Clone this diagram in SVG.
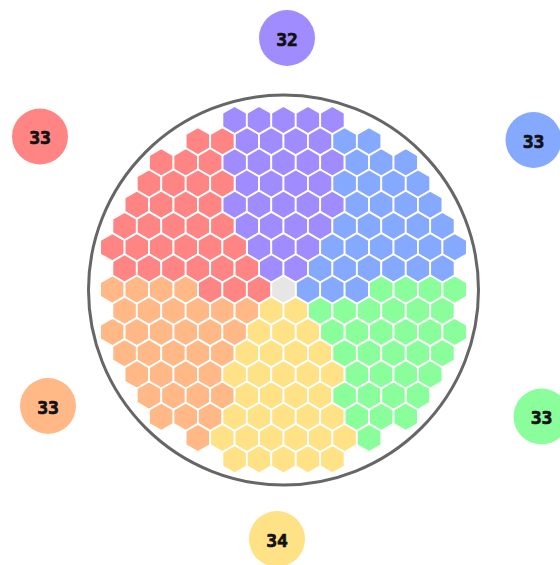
<svg xmlns="http://www.w3.org/2000/svg" xmlns:xlink="http://www.w3.org/1999/xlink" width="560" height="565" viewBox="0 0 560 565">
<defs>
<style>
.P{fill:#a08bff}.B{fill:#85a9ff}.G{fill:#8afe9b}.Y{fill:#ffe285}.O{fill:#ffb886}.R{fill:#ff8585}.N{fill:#e6e6e6}
use{stroke:#ffffff;stroke-width:1.8}
.lbl{font-family:"DejaVu Sans Mono","Liberation Mono",monospace;font-weight:bold;font-size:18px;fill:#111;stroke:#111;stroke-width:0.7;text-anchor:middle;dominant-baseline:central}
</style>
<polygon id="h" points="0,-14.1 12.21,-7.05 12.21,7.05 0,14.1 -12.21,7.05 -12.21,-7.05"/>
</defs>
<rect width="560" height="565" fill="#ffffff"/>
<circle cx="283.5" cy="290" r="195" fill="none" stroke="#666666" stroke-width="3"/>
<g id="purple">
<use href="#h" class="P" x="234.6" y="120"/><use href="#h" class="P" x="259.05" y="120"/><use href="#h" class="P" x="283.5" y="120"/><use href="#h" class="P" x="307.95" y="120"/><use href="#h" class="P" x="332.4" y="120"/>
<use href="#h" class="P" x="246.8" y="141.2"/><use href="#h" class="P" x="271.3" y="141.2"/><use href="#h" class="P" x="295.7" y="141.2"/><use href="#h" class="P" x="320.2" y="141.2"/>
<use href="#h" class="P" x="234.6" y="162.4"/><use href="#h" class="P" x="259.05" y="162.4"/><use href="#h" class="P" x="283.5" y="162.4"/><use href="#h" class="P" x="307.95" y="162.4"/><use href="#h" class="P" x="332.4" y="162.4"/>
<use href="#h" class="P" x="246.8" y="183.6"/><use href="#h" class="P" x="271.3" y="183.6"/><use href="#h" class="P" x="295.7" y="183.6"/><use href="#h" class="P" x="320.2" y="183.6"/>
<use href="#h" class="P" x="234.6" y="204.8"/><use href="#h" class="P" x="259.05" y="204.8"/><use href="#h" class="P" x="283.5" y="204.8"/><use href="#h" class="P" x="307.95" y="204.8"/><use href="#h" class="P" x="332.4" y="204.8"/>
<use href="#h" class="P" x="246.8" y="226"/><use href="#h" class="P" x="271.3" y="226"/><use href="#h" class="P" x="295.7" y="226"/><use href="#h" class="P" x="320.2" y="226"/>
<use href="#h" class="P" x="259.05" y="247.2"/><use href="#h" class="P" x="283.5" y="247.2"/><use href="#h" class="P" x="307.95" y="247.2"/>
<use href="#h" class="P" x="271.3" y="268.4"/><use href="#h" class="P" x="295.7" y="268.4"/>
</g>
<g id="blue">
<use href="#h" class="B" x="344.6" y="141.2"/><use href="#h" class="B" x="369.1" y="141.2"/>
<use href="#h" class="B" x="356.85" y="162.4"/><use href="#h" class="B" x="381.3" y="162.4"/><use href="#h" class="B" x="405.75" y="162.4"/>
<use href="#h" class="B" x="344.6" y="183.6"/><use href="#h" class="B" x="369.1" y="183.6"/><use href="#h" class="B" x="393.5" y="183.6"/><use href="#h" class="B" x="418" y="183.6"/>
<use href="#h" class="B" x="356.85" y="204.8"/><use href="#h" class="B" x="381.3" y="204.8"/><use href="#h" class="B" x="405.75" y="204.8"/><use href="#h" class="B" x="430.2" y="204.8"/>
<use href="#h" class="B" x="344.6" y="226"/><use href="#h" class="B" x="369.1" y="226"/><use href="#h" class="B" x="393.5" y="226"/><use href="#h" class="B" x="418" y="226"/><use href="#h" class="B" x="442.4" y="226"/>
<use href="#h" class="B" x="332.4" y="247.2"/><use href="#h" class="B" x="356.85" y="247.2"/><use href="#h" class="B" x="381.3" y="247.2"/><use href="#h" class="B" x="405.75" y="247.2"/><use href="#h" class="B" x="430.2" y="247.2"/><use href="#h" class="B" x="454.65" y="247.2"/>
<use href="#h" class="B" x="320.2" y="268.4"/><use href="#h" class="B" x="344.6" y="268.4"/><use href="#h" class="B" x="369.1" y="268.4"/><use href="#h" class="B" x="393.5" y="268.4"/><use href="#h" class="B" x="418" y="268.4"/><use href="#h" class="B" x="442.4" y="268.4"/>
<use href="#h" class="B" x="307.95" y="289.6"/><use href="#h" class="B" x="332.4" y="289.6"/><use href="#h" class="B" x="356.85" y="289.6"/>
</g>
<g id="red">
<use href="#h" class="R" x="197.9" y="141.2"/><use href="#h" class="R" x="222.4" y="141.2"/>
<use href="#h" class="R" x="161.25" y="162.4"/><use href="#h" class="R" x="185.7" y="162.4"/><use href="#h" class="R" x="210.15" y="162.4"/>
<use href="#h" class="R" x="149" y="183.6"/><use href="#h" class="R" x="173.5" y="183.6"/><use href="#h" class="R" x="197.9" y="183.6"/><use href="#h" class="R" x="222.4" y="183.6"/>
<use href="#h" class="R" x="136.8" y="204.8"/><use href="#h" class="R" x="161.25" y="204.8"/><use href="#h" class="R" x="185.7" y="204.8"/><use href="#h" class="R" x="210.15" y="204.8"/>
<use href="#h" class="R" x="124.6" y="226"/><use href="#h" class="R" x="149" y="226"/><use href="#h" class="R" x="173.5" y="226"/><use href="#h" class="R" x="197.9" y="226"/><use href="#h" class="R" x="222.4" y="226"/>
<use href="#h" class="R" x="112.35" y="247.2"/><use href="#h" class="R" x="136.8" y="247.2"/><use href="#h" class="R" x="161.25" y="247.2"/><use href="#h" class="R" x="185.7" y="247.2"/><use href="#h" class="R" x="210.15" y="247.2"/><use href="#h" class="R" x="234.6" y="247.2"/>
<use href="#h" class="R" x="124.6" y="268.4"/><use href="#h" class="R" x="149" y="268.4"/><use href="#h" class="R" x="173.5" y="268.4"/><use href="#h" class="R" x="197.9" y="268.4"/><use href="#h" class="R" x="222.4" y="268.4"/><use href="#h" class="R" x="246.8" y="268.4"/>
<use href="#h" class="R" x="210.15" y="289.6"/><use href="#h" class="R" x="234.6" y="289.6"/><use href="#h" class="R" x="259.05" y="289.6"/>
</g>
<g id="center">
<use href="#h" class="N" x="283.5" y="289.6"/>
</g>
<g id="orange">
<use href="#h" class="O" x="112.35" y="289.6"/><use href="#h" class="O" x="136.8" y="289.6"/><use href="#h" class="O" x="161.25" y="289.6"/><use href="#h" class="O" x="185.7" y="289.6"/>
<use href="#h" class="O" x="124.6" y="310.8"/><use href="#h" class="O" x="149" y="310.8"/><use href="#h" class="O" x="173.5" y="310.8"/><use href="#h" class="O" x="197.9" y="310.8"/><use href="#h" class="O" x="222.4" y="310.8"/><use href="#h" class="O" x="246.8" y="310.8"/>
<use href="#h" class="O" x="112.35" y="332"/><use href="#h" class="O" x="136.8" y="332"/><use href="#h" class="O" x="161.25" y="332"/><use href="#h" class="O" x="185.7" y="332"/><use href="#h" class="O" x="210.15" y="332"/><use href="#h" class="O" x="234.6" y="332"/>
<use href="#h" class="O" x="124.6" y="353.2"/><use href="#h" class="O" x="149" y="353.2"/><use href="#h" class="O" x="173.5" y="353.2"/><use href="#h" class="O" x="197.9" y="353.2"/><use href="#h" class="O" x="222.4" y="353.2"/>
<use href="#h" class="O" x="136.8" y="374.4"/><use href="#h" class="O" x="161.25" y="374.4"/><use href="#h" class="O" x="185.7" y="374.4"/><use href="#h" class="O" x="210.15" y="374.4"/>
<use href="#h" class="O" x="149" y="395.6"/><use href="#h" class="O" x="173.5" y="395.6"/><use href="#h" class="O" x="197.9" y="395.6"/><use href="#h" class="O" x="222.4" y="395.6"/>
<use href="#h" class="O" x="161.25" y="416.8"/><use href="#h" class="O" x="185.7" y="416.8"/><use href="#h" class="O" x="210.15" y="416.8"/>
<use href="#h" class="O" x="197.9" y="438"/>
</g>
<g id="yellow">
<use href="#h" class="Y" x="271.3" y="310.8"/><use href="#h" class="Y" x="295.7" y="310.8"/>
<use href="#h" class="Y" x="259.05" y="332"/><use href="#h" class="Y" x="283.5" y="332"/><use href="#h" class="Y" x="307.95" y="332"/>
<use href="#h" class="Y" x="246.8" y="353.2"/><use href="#h" class="Y" x="271.3" y="353.2"/><use href="#h" class="Y" x="295.7" y="353.2"/><use href="#h" class="Y" x="320.2" y="353.2"/>
<use href="#h" class="Y" x="234.6" y="374.4"/><use href="#h" class="Y" x="259.05" y="374.4"/><use href="#h" class="Y" x="283.5" y="374.4"/><use href="#h" class="Y" x="307.95" y="374.4"/><use href="#h" class="Y" x="332.4" y="374.4"/>
<use href="#h" class="Y" x="246.8" y="395.6"/><use href="#h" class="Y" x="271.3" y="395.6"/><use href="#h" class="Y" x="295.7" y="395.6"/><use href="#h" class="Y" x="320.2" y="395.6"/>
<use href="#h" class="Y" x="234.6" y="416.8"/><use href="#h" class="Y" x="259.05" y="416.8"/><use href="#h" class="Y" x="283.5" y="416.8"/><use href="#h" class="Y" x="307.95" y="416.8"/><use href="#h" class="Y" x="332.4" y="416.8"/>
<use href="#h" class="Y" x="222.4" y="438"/><use href="#h" class="Y" x="246.8" y="438"/><use href="#h" class="Y" x="271.3" y="438"/><use href="#h" class="Y" x="295.7" y="438"/><use href="#h" class="Y" x="320.2" y="438"/><use href="#h" class="Y" x="344.6" y="438"/>
<use href="#h" class="Y" x="234.6" y="459.2"/><use href="#h" class="Y" x="259.05" y="459.2"/><use href="#h" class="Y" x="283.5" y="459.2"/><use href="#h" class="Y" x="307.95" y="459.2"/><use href="#h" class="Y" x="332.4" y="459.2"/>
</g>
<g id="green">
<use href="#h" class="G" x="381.3" y="289.6"/><use href="#h" class="G" x="405.75" y="289.6"/><use href="#h" class="G" x="430.2" y="289.6"/><use href="#h" class="G" x="454.65" y="289.6"/>
<use href="#h" class="G" x="320.2" y="310.8"/><use href="#h" class="G" x="344.6" y="310.8"/><use href="#h" class="G" x="369.1" y="310.8"/><use href="#h" class="G" x="393.5" y="310.8"/><use href="#h" class="G" x="418" y="310.8"/><use href="#h" class="G" x="442.4" y="310.8"/>
<use href="#h" class="G" x="332.4" y="332"/><use href="#h" class="G" x="356.85" y="332"/><use href="#h" class="G" x="381.3" y="332"/><use href="#h" class="G" x="405.75" y="332"/><use href="#h" class="G" x="430.2" y="332"/><use href="#h" class="G" x="454.65" y="332"/>
<use href="#h" class="G" x="344.6" y="353.2"/><use href="#h" class="G" x="369.1" y="353.2"/><use href="#h" class="G" x="393.5" y="353.2"/><use href="#h" class="G" x="418" y="353.2"/><use href="#h" class="G" x="442.4" y="353.2"/>
<use href="#h" class="G" x="356.85" y="374.4"/><use href="#h" class="G" x="381.3" y="374.4"/><use href="#h" class="G" x="405.75" y="374.4"/><use href="#h" class="G" x="430.2" y="374.4"/>
<use href="#h" class="G" x="344.6" y="395.6"/><use href="#h" class="G" x="369.1" y="395.6"/><use href="#h" class="G" x="393.5" y="395.6"/><use href="#h" class="G" x="418" y="395.6"/>
<use href="#h" class="G" x="356.85" y="416.8"/><use href="#h" class="G" x="381.3" y="416.8"/><use href="#h" class="G" x="405.75" y="416.8"/>
<use href="#h" class="G" x="369.1" y="438"/>
</g>
<g id="label-purple"><circle cx="287" cy="38" r="28" class="P"/><text x="287" y="39" class="lbl">32</text></g>
<g id="label-blue"><circle cx="533.5" cy="140" r="28" class="B"/><text x="533.5" y="141" class="lbl">33</text></g>
<g id="label-green"><circle cx="541.5" cy="416.5" r="28" class="G"/><text x="541.5" y="417.5" class="lbl">33</text></g>
<g id="label-yellow"><circle cx="277" cy="539" r="28" class="Y"/><text x="277" y="540" class="lbl">34</text></g>
<g id="label-orange"><circle cx="48" cy="406" r="28" class="O"/><text x="48" y="407" class="lbl">33</text></g>
<g id="label-red"><circle cx="40" cy="136.5" r="28" class="R"/><text x="40" y="137.5" class="lbl">33</text></g>
</svg>
